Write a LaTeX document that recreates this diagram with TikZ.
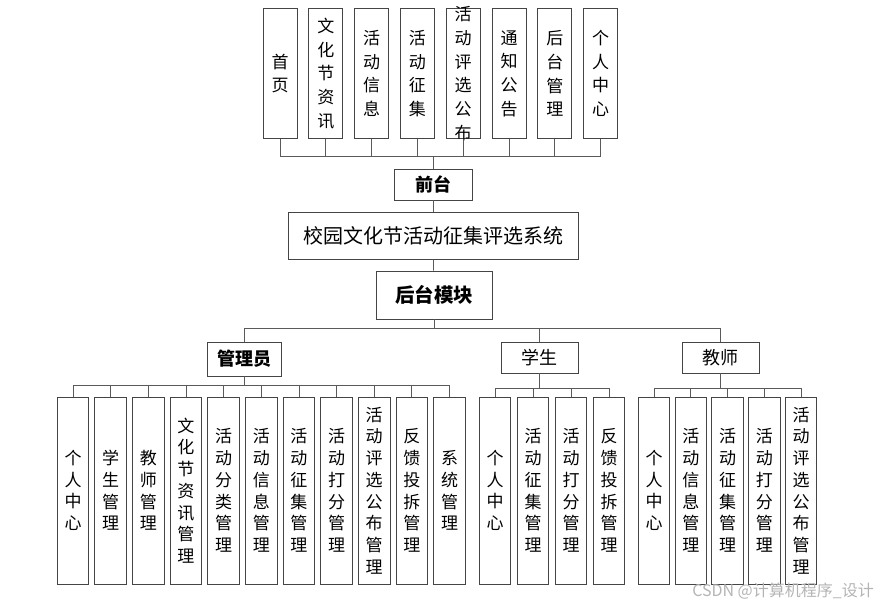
\documentclass[tikz,border=0pt]{standalone}
\usepackage{fontspec}
\setmainfont{Noto Sans CJK SC}
\usetikzlibrary{positioning}
\definecolor{Edge}{HTML}{454545}
\definecolor{Wire}{HTML}{5A5A5A}
\definecolor{Mark}{HTML}{B4B4B4}
\tikzset{
  hbox/.style={draw=Edge,fill=white,line width=.9pt,inner sep=0pt,align=center},
  vtext/.style={inner sep=0pt,align=center,text width=18pt},
  topbox/.style={hbox,minimum width=34pt,minimum height=130pt,label={[vtext,font=\fontsize{17}{23.7}\selectfont]center:#1}},
  subbox/.style={hbox,minimum width=31.5pt,minimum height=187pt,label={[vtext,font=\fontsize{17}{21.7}\selectfont]center:#1}},
  rolebox/.style={hbox,font=\fontsize{18}{18}\selectfont},
  headbox/.style={hbox,font=\fontsize{18}{18}\selectfont\bfseries},
  wire/.style={draw=Wire,line width=.75pt}
}

\begin{document}
\begin{tikzpicture}[x=1pt,y=-1pt]
  \useasboundingbox (0,0) rectangle (889,601);
  % front end pages
  \begin{scope}[node distance=10.9pt]
    \node[topbox={首\\页}] (t1) at (280,73.5) {};
    \node[topbox={文\\化\\节\\资\\讯},right=of t1] (t2) {};
    \node[topbox={活\\动\\信\\息},right=of t2] (t3) {};
    \node[topbox={活\\动\\征\\集},right=of t3] (t4) {};
    \node[topbox={活\\动\\评\\选\\公\\布},right=of t4] (t5) {};
    \node[topbox={通\\知\\公\\告},right=of t5] (t6) {};
    \node[topbox={后\\台\\管\\理},right=of t6] (t7) {};
    \node[topbox={个\\人\\中\\心},right=of t7] (t8) {};
  \end{scope}
  \node[headbox,minimum width=78pt,minimum height=31pt] (qiantai) at (433,184.5) {前台};
  \node[hbox,minimum width=290pt,minimum height=47pt,font=\fontsize{20}{20}\selectfont] (xtmc) at (433,235.5) {校园文化节活动征集评选系统};
  \node[headbox,minimum width=116pt,minimum height=48pt,font=\fontsize{19.5}{19.5}\selectfont\bfseries] (htmk) at (434,295) {后台模块};
  % roles
  \node[headbox,minimum width=74pt,minimum height=34pt] (gly) at (244,359) {管理员};
  \node[rolebox,minimum width=77pt,minimum height=31pt] (xs) at (539.5,357.5) {学生};
  \node[rolebox,minimum width=77pt,minimum height=31pt] (js) at (720.5,357.5) {教师};
  % admin functions
  \begin{scope}[node distance=5.25pt]
    \node[subbox={个\\人\\中\\心}] (a1) at (73,490.5) {};
    \node[subbox={学\\生\\管\\理},right=of a1] (a2) {};
    \node[subbox={教\\师\\管\\理},right=of a2] (a3) {};
    \node[subbox={文\\化\\节\\资\\讯\\管\\理},right=of a3] (a4) {};
    \node[subbox={活\\动\\分\\类\\管\\理},right=of a4] (a5) {};
    \node[subbox={活\\动\\信\\息\\管\\理},right=of a5] (a6) {};
    \node[subbox={活\\动\\征\\集\\管\\理},right=of a6] (a7) {};
    \node[subbox={活\\动\\打\\分\\管\\理},right=of a7] (a8) {};
    \node[subbox={活\\动\\评\\选\\公\\布\\管\\理},right=of a8] (a9) {};
    \node[subbox={反\\馈\\投\\拆\\管\\理},right=of a9] (a10) {};
    \node[subbox={系\\统\\管\\理},right=of a10] (a11) {};
  \end{scope}
  % student functions
  \begin{scope}[node distance=5.6pt]
    \node[subbox={个\\人\\中\\心}] (s1) at (495,490.5) {};
    \node[subbox={活\\动\\征\\集\\管\\理},right=of s1] (s2) {};
    \node[subbox={活\\动\\打\\分\\管\\理},right=of s2] (s3) {};
    \node[subbox={反\\馈\\投\\拆\\管\\理},right=of s3] (s4) {};
  \end{scope}
  % teacher functions
  \begin{scope}[node distance=4.35pt]
    \node[subbox={个\\人\\中\\心}] (j1) at (654,490.5) {};
    \node[subbox={活\\动\\信\\息\\管\\理},right=of j1] (j2) {};
    \node[subbox={活\\动\\征\\集\\管\\理},right=of j2] (j3) {};
    \node[subbox={活\\动\\打\\分\\管\\理},right=of j3] (j4) {};
    \node[subbox={活\\动\\评\\选\\公\\布\\管\\理},right=of j4] (j5) {};
  \end{scope}
  % connectors
  \draw[wire] (qiantai) -- (xtmc);
  \draw[wire] (xtmc) -- (htmk);
  \foreach \i in {1,...,8} \draw[wire] (qiantai.north) -- ++(0,-12) -| (t\i.south);
  \foreach \r in {gly,xs,js} \draw[wire] (htmk.south) -- ++(0,9) -| (\r.north);
  \foreach \i in {1,...,11} \draw[wire] (gly.south) -- ++(0,9) -| (a\i.north);
  \foreach \i in {1,...,4} \draw[wire] (xs.south) -- ++(0,15) -| (s\i.north);
  \foreach \i in {1,...,5} \draw[wire] (js.south) -- ++(0,15) -| (j\i.north);
  \node[text=Mark,font=\fontsize{16}{16}\selectfont,anchor=south east,inner sep=0pt] (mark) at (874,599) {CSDN @计算机程序\_设计};
\end{tikzpicture}
\end{document}
